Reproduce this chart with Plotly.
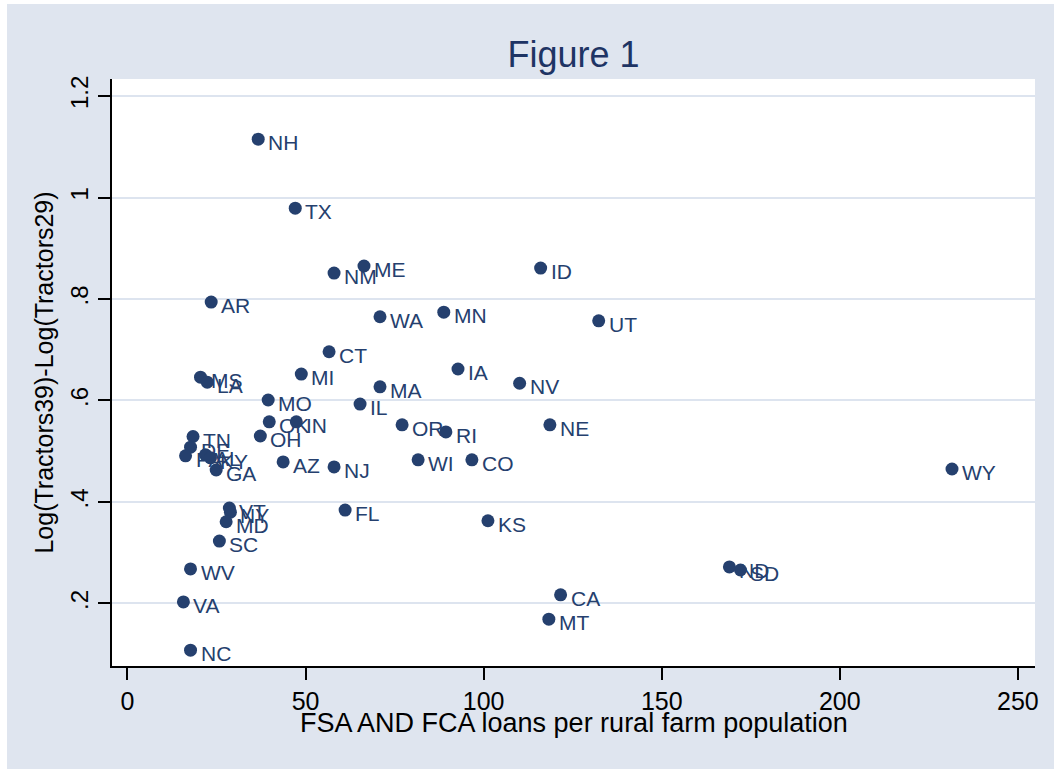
import plotly.graph_objects as go

# State-level observations
states = ["NH", "TX", "ME", "NM", "ID", "AR", "MN", "WA", "UT", "CT",
          "IA", "MI", "MS", "LA", "NV", "MA", "MO", "IL", "NE", "OR",
          "OK", "IN", "RI", "OH", "TN", "DE", "PA", "AL", "KY", "GA",
          "AZ", "NJ", "WI", "CO", "WY", "FL", "VT", "NY", "MD", "SC",
          "KS", "ND", "SD", "WV", "CA", "VA", "MT", "NC"]

loans_per_farm_pop = [36.7, 47.1, 66.4, 58.0, 116.0, 23.5, 88.8, 70.9, 132.3, 56.6,
                      92.8, 48.8, 20.5, 22.4, 110.1, 70.9, 39.5, 65.3, 118.6, 77.1,
                      39.8, 47.4, 89.4, 37.3, 18.4, 17.7, 16.3, 21.9, 23.3, 24.9,
                      43.7, 58.0, 81.6, 96.7, 231.5, 61.1, 28.6, 28.9, 27.7, 25.8,
                      101.2, 169.0, 172.1, 17.7, 121.6, 15.7, 118.3, 17.7]

log_tractor_change = [1.115, 0.979, 0.865, 0.851, 0.861, 0.794, 0.774, 0.765, 0.757, 0.696,
                      0.662, 0.652, 0.646, 0.636, 0.634, 0.627, 0.601, 0.593, 0.552, 0.552,
                      0.558, 0.558, 0.538, 0.530, 0.529, 0.508, 0.491, 0.493, 0.487, 0.463,
                      0.479, 0.469, 0.483, 0.483, 0.465, 0.384, 0.388, 0.380, 0.361, 0.323,
                      0.363, 0.272, 0.266, 0.268, 0.217, 0.203, 0.169, 0.108]

x_ticks = [0, 50, 100, 150, 200, 250]
y_ticks = [0.2, 0.4, 0.6, 0.8, 1.0, 1.2]
y_tick_text = [".2", ".4", ".6", ".8", "1", "1.2"]

NAVY = "#25406e"
BG = "#dfe5ef"
GRID = "#dde4ef"
FONT = "Liberation Sans, Arial, sans-serif"

fig = go.Figure()
fig.add_trace(go.Scatter(
    x=loans_per_farm_pop,
    y=log_tractor_change,
    mode="markers",
    marker=dict(size=13, color=NAVY),
    cliponaxis=False,
    showlegend=False,
))

# marker labels at 3 o'clock, slightly below the marker centre
for sx, sy, name in zip(loans_per_farm_pop, log_tractor_change, states):
    fig.add_annotation(x=sx, y=sy, text=name, showarrow=False,
                       xanchor="left", yanchor="middle",
                       xshift=8, yshift=-3.5,
                       font=dict(family=FONT, size=21, color=NAVY))

W, H = 1054, 769
L, R, T, B = 112, 19, 79, 103
pw = W - L - R
ph = H - T - B

# thin white border at the top and left edges of the graph region
fig.add_shape(type="rect", xref="paper", yref="paper",
              x0=-L / pw, x1=(W - L) / pw, y0=(ph + T - 4) / ph, y1=(ph + T) / ph,
              fillcolor="white", line_width=0, layer="below")
fig.add_shape(type="rect", xref="paper", yref="paper",
              x0=-L / pw, x1=(7 - L) / pw, y0=-B / ph, y1=(ph + T) / ph,
              fillcolor="white", line_width=0, layer="below")

# x-axis title sits tight under the tick labels
fig.add_annotation(text="FSA AND FCA loans per rural farm population",
                   xref="paper", yref="paper", x=0.5, y=-57 / ph,
                   xanchor="center", yanchor="middle", showarrow=False,
                   font=dict(family=FONT, size=27, color="black"))

fig.update_layout(
    width=W, height=H,
    margin=dict(l=L, r=R, t=T, b=B),
    paper_bgcolor=BG,
    plot_bgcolor="white",
    font=dict(family=FONT, color="black"),
    title=dict(text="Figure 1", x=0.5, xref="paper", xanchor="center",
               y=1 - 54 / H, yref="container", yanchor="middle",
               font=dict(family=FONT, size=36, color="#1e3464")),
    xaxis=dict(
        range=[-4.35, 254.8],
        tickvals=x_ticks,
        ticks="outside", ticklen=12, tickwidth=2, tickcolor="black",
        showline=True, linecolor="black", linewidth=2,
        showgrid=False, zeroline=False,
        tickfont=dict(size=25, color="black"),
    ),
    yaxis=dict(
        range=[0.0768, 1.2335],
        tickvals=y_ticks, ticktext=y_tick_text,
        tickangle=-90,
        ticks="outside", ticklen=12, tickwidth=2, tickcolor="black",
        showline=True, linecolor="black", linewidth=2,
        showgrid=True, gridcolor=GRID, gridwidth=2,
        zeroline=False,
        tickfont=dict(size=24, color="black"),
        title=dict(text="Log(Tractors39)-Log(Tractors29)",
                   font=dict(size=25, color="black"), standoff=6),
    ),
)

fig.write_html("out.html")
